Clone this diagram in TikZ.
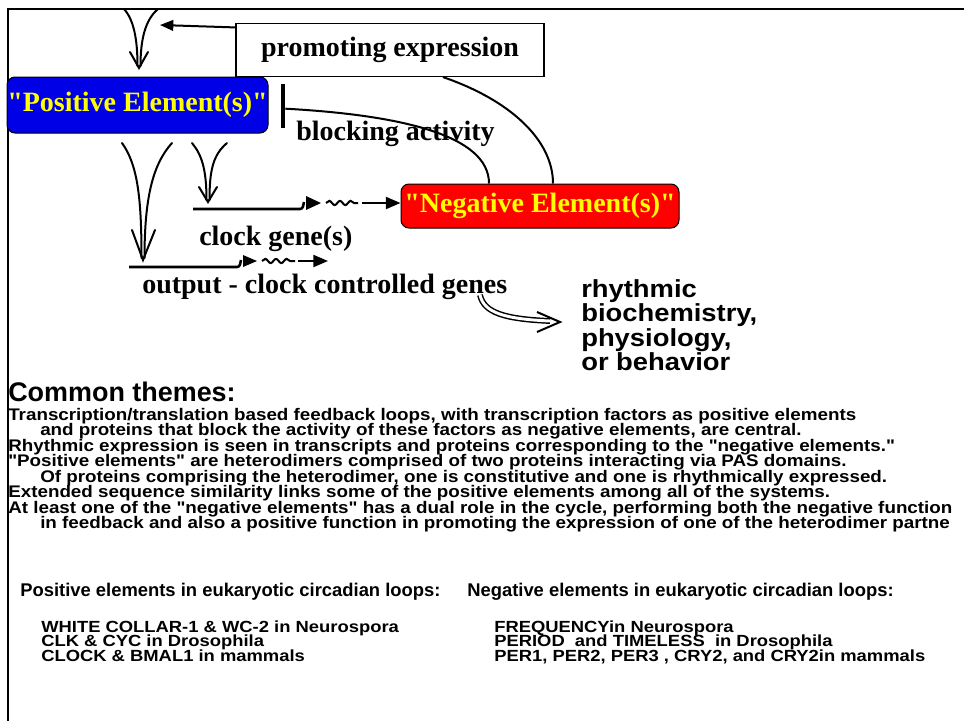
\documentclass[tikz,border=0pt]{standalone}
\usepackage{fontspec}
\setmainfont{Liberation Serif}[Ligatures=TeXOff]
\newfontfamily\sansb{Liberation Sans}[Ligatures=TeXOff]
\newfontfamily\sansw{Liberation Sans}[FakeStretch=1.12, Ligatures=TeXOff]
\newfontfamily\sansr{Liberation Sans}[FakeStretch=1.11, Ligatures=TeXOff]
\newfontfamily\sansl{Liberation Sans}[FakeStretch=1.14, Ligatures=TeXOff]
\usetikzlibrary{arrows.meta,decorations.pathmorphing}
\newlength\pxu
\setlength\pxu{0.75pt}
\newcommand\dq{\char34 }
\definecolor{posblue}{RGB}{0,0,230}
\definecolor{negred}{RGB}{255,0,0}
\definecolor{txtyellow}{RGB}{255,255,0}
\tikzset{
  sb/.style={font=\fontsize{21}{24}\selectfont\bfseries, inner sep=0pt},
  elembox/.style={draw=black, line width=0.75pt, rounded corners=6pt,
    font=\fontsize{21}{24}\selectfont\bfseries, text=txtyellow, inner sep=0pt},
  promo/.style={draw=black, line width=0.9pt, fill=white,
    font=\fontsize{21}{24}\selectfont\bfseries, inner sep=0pt},
  sanstxt/.style={font=\sansw\bfseries\fontsize{12.6}{14}\selectfont, anchor=base west, inner sep=0pt},
  headtxt/.style={font=\sansb\bfseries\fontsize{20.2}{22}\selectfont, anchor=base west, inner sep=0pt},
  bigtxt/.style={font=\sansr\bfseries\fontsize{18.5}{20}\selectfont, anchor=base west, inner sep=0pt},
  listhead/.style={font=\sansb\bfseries\fontsize{13.8}{15}\selectfont, anchor=base west, inner sep=0pt},
  listtxt/.style={font=\sansl\bfseries\fontsize{12.1}{14}\selectfont, anchor=base west, inner sep=0pt},
  fun/.style={line width=1.5pt, line cap=round},
  gene/.style={line width=1.9pt},
  wave/.style={line width=1.5pt, decorate, decoration={snake, amplitude=1.6pt, segment length=8pt}},
  conn/.style={line width=1.5pt},
  tri/.style={-{Triangle[length=11pt, width=9pt]}, line width=1.6pt},
}
\begin{document}
\begin{tikzpicture}[x=0.75pt, y=-0.75pt]
\path[use as bounding box, fill=white] (0,0) rectangle (964,721);
% frame
\draw[line width=1.5pt] (7.5,1000) -- (7.5,8.5) -- (1100,8.5);

% boxes
\node[promo, minimum width=308\pxu, minimum height=53\pxu] (prom) at (390,50) {promoting expression};
\node[elembox, fill=posblue, minimum width=261\pxu, minimum height=56\pxu] (pos) at (137.5,105) {"Positive Element(s)"};
\node[elembox, fill=negred, minimum width=278\pxu, minimum height=44\pxu] (neg) at (540,206) {"Negative Element(s)"};

% promoting arrow
\coordinate (topin) at (160,25);
\draw[conn, -{Triangle[length=10pt, width=8pt]}] ([yshift=-3.4pt]prom.north west) -- (topin);

% top funnel
\draw[fun] (124,9) .. controls (134,20) and (137.5,40) .. (137.5,66);
\draw[fun] (158,9) .. controls (145,20) and (140.5,40) .. (140.5,66);
\draw[fun] (130,52) -- (139,68) -- (148,52);

% blocking bar and curve
\node[fill=black, minimum width=4\pxu, minimum height=44\pxu, inner sep=0pt] (bar) at (283,106) {};
\draw[conn] ([yshift=-2pt]bar.east) .. controls (400,115) and (489,135) .. ([xshift=-38.25pt]neg.north);
\draw[conn] ([xshift=39.75pt]prom.south) .. controls (510,100) and (553,140) .. ([xshift=9.75pt]neg.north);

\node[sb, anchor=base west] (blk) at (296,140) {blocking activity};

% big funnel (output)
\draw[fun] (122,143) .. controls (138,165) and (141.5,200) .. (141.5,258);
\draw[fun] (172,143) .. controls (152,165) and (144.5,200) .. (144.5,258);
\draw[fun] (132,230) -- (143,260) -- (155,230);

% small funnel (clock gene)
\draw[fun] (192,143) .. controls (202,155) and (206.5,170) .. (206.5,200);
\draw[fun] (227,143) .. controls (213,155) and (209.5,170) .. (209.5,200);
\draw[fun] (199,187) -- (208,202) -- (217,187);

% clock gene line
\coordinate (g1s) at (193,209);
\coordinate (g1e) at (300,209);
\draw[gene] (g1s) -- (g1e) to[out=0,in=-100] (304,202);
\fill (306,196) -- (321,203) -- (306,210) -- cycle;
\draw[wave] (326,203) -- (358,203);
\draw[tri] (362,203) -- ([yshift=2.25pt]neg.west);
\node[sb, anchor=base west] (cg) at (199,245) {clock gene(s)};

% output line
\coordinate (g2s) at (129,267);
\coordinate (g2e) at (237,267);
\coordinate (out1) at (328,261);
\draw[gene] (g2s) -- (g2e) to[out=0,in=-100] (241,260);
\fill (243,255) -- (257,261) -- (243,267) -- cycle;
\draw[wave] (262,261) -- (295,261);
\draw[tri] (298,261) -- (out1);
\node[sb, anchor=base west] (outg) at (142,293) {output - clock controlled genes};

% rhythmic
\node[bigtxt] (r1) at (581,297) {rhythmic};
\node[bigtxt] (r2) at (581,321.5) {biochemistry,};
\node[bigtxt] (r3) at (581,346) {physiology,};
\node[bigtxt] (r4) at (581,370.5) {or behavior};
\coordinate (rs) at (480,295);
\coordinate (re) at (560,322);
\draw[line width=1.1pt, double=white, double distance=2.2pt] (rs) .. controls (484,313) and (505,319) .. (550,321);
\draw[line width=1.5pt] (537,312) -- (re) -- (537,332);

% common themes
\node[headtxt] (ct) at (8,401) {Common themes:};
\node[sanstxt] (l1) at (8,420) {Transcription/translation based feedback loops, with transcription factors as positive elements};
\node[sanstxt] (l2) at (40,435.5) {and proteins that block the activity of these factors as negative elements, are central.};
\node[sanstxt] (l3) at (8,451) {Rhythmic expression is seen in transcripts and proteins corresponding to the "negative elements."};
\node[sanstxt] (l4) at (8,466.5) {"Positive elements" are heterodimers comprised of two proteins interacting via PAS domains.};
\node[sanstxt] (l5) at (40,482) {Of proteins comprising the heterodimer, one is constitutive and one is rhythmically expressed.};
\node[sanstxt] (l6) at (8,497.5) {Extended sequence similarity links some of the positive elements among all of the systems.};
\node[sanstxt] (l7) at (8,513) {At least one of the "negative elements" has a dual role in the cycle, performing both the negative function};
\node[sanstxt] (l8) at (40,528.5) {in feedback and also a positive function in promoting the expression of one of the heterodimer partne};

% lists
\node[listhead] (ph) at (20,596) {Positive elements in eukaryotic circadian loops:};
\node[listhead] (nh) at (467,596) {Negative elements in eukaryotic circadian loops:};
\node[listtxt] (p1) at (41,632) {WHITE COLLAR-1 \& WC-2 in Neurospora};
\node[listtxt] (p2) at (41,646.5) {CLK \& CYC in Drosophila};
\node[listtxt] (p3) at (41,661) {CLOCK \& BMAL1 in mammals};
\node[listtxt] (n1) at (494,632) {FREQUENCYin Neurospora};
\node[listtxt] (n2) at (494,646.5) {PERIOD~ and TIMELESS~ in Drosophila};
\node[listtxt] (n3) at (494,661) {PER1, PER2, PER3 , CRY2, and CRY2in mammals};
\end{tikzpicture}
\end{document}
